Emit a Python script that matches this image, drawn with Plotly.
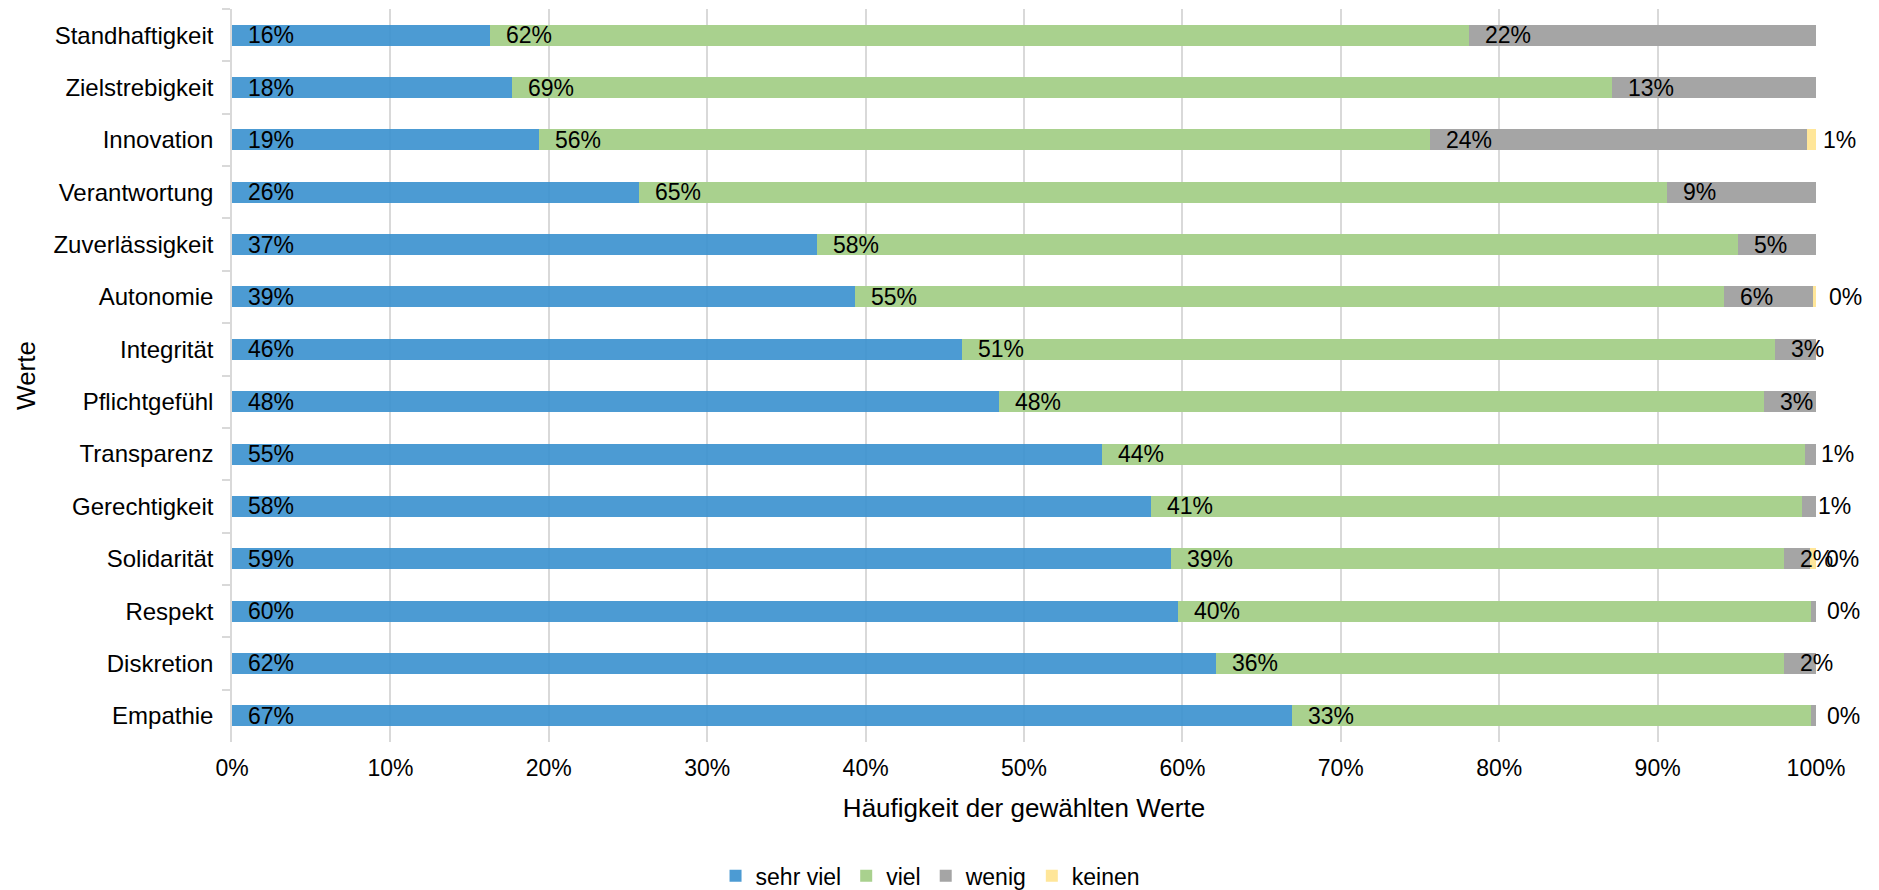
import plotly.graph_objects as go

categories = ["Standhaftigkeit", "Zielstrebigkeit", "Innovation", "Verantwortung",
              "Zuverlässigkeit", "Autonomie", "Integrität", "Pflichtgefühl",
              "Transparenz", "Gerechtigkeit", "Solidarität", "Respekt",
              "Diskretion", "Empathie"]

sehr_viel = [16.3, 17.7, 19.4, 25.7, 36.9, 39.3, 46.1, 48.4, 54.9, 58.0, 59.3, 59.7, 62.1, 66.9]
viel      = [61.8, 69.4, 56.2, 64.9, 58.2, 54.9, 51.3, 48.3, 44.4, 41.1, 38.7, 40.0, 35.9, 32.8]
wenig     = [21.9, 12.9, 23.8, 9.4, 4.9, 5.6, 2.6, 3.3, 0.7, 0.9, 1.6, 0.3, 2.0, 0.3]
keinen    = [None, None, 0.6, None, None, 0.2, None, None, None, None, 0.4, None, None, None]

series_names = ["sehr viel", "viel", "wenig", "keinen"]
series_values = [sehr_viel, viel, wenig, keinen]
series_colors = ["rgba(57,144,206,0.9)", "#A9D18E", "#A5A5A5", "#FFE699"]

x_ticks = [0, 10, 20, 30, 40, 50, 60, 70, 80, 90, 100]

FONT = "Liberation Sans, Arial, sans-serif"

fig = go.Figure()
for name, vals, col in zip(series_names, series_values, series_colors):
    fig.add_trace(go.Bar(
        y=categories, x=[v if v is not None else 0 for v in vals],
        name=name, orientation="h",
        marker=dict(color=col, line=dict(width=0)),
        hoverinfo="x+y+name",
    ))

annotations = []
cum = [0.0] * len(categories)
for vals in series_values:
    for i, v in enumerate(vals):
        if v is None:
            continue
        annotations.append(dict(
            x=cum[i], y=categories[i], xref="x", yref="y",
            text=f"{int(v + 0.5)}%", showarrow=False,
            xanchor="left", yanchor="middle", xshift=14,
            font=dict(family=FONT, size=23, color="#000000"),
        ))
        cum[i] += v

fig.update_layout(
    width=1879, height=890,
    margin=dict(l=232, r=63, t=9, b=148, autoexpand=False),
    barmode="stack", bargap=0.6,
    plot_bgcolor="white", paper_bgcolor="white",
    font=dict(family=FONT, size=23, color="#000000"),
    annotations=annotations,
    showlegend=True,
    legend=dict(orientation="h", xref="paper", x=0.441, xanchor="center",
                yref="container", y=0.016, yanchor="middle",
                font=dict(family=FONT, size=23, color="#000000"),
                traceorder="normal", itemwidth=30),
)

fig.update_xaxes(
    range=[0, 100], tickvals=x_ticks, ticktext=[f"{t}%" for t in x_ticks],
    showgrid=True, gridcolor="#D9D9D9", gridwidth=1.5,
    zeroline=False, showline=False, ticks="",
    ticklabelstandoff=10, automargin=False,
    tickfont=dict(family=FONT, size=23, color="#000000"),
    title=dict(text="Häufigkeit der gewählten Werte", standoff=18,
               font=dict(family=FONT, size=26, color="#000000")),
)

fig.update_yaxes(
    autorange="reversed", type="category",
    showgrid=False, zeroline=False,
    showline=True, linecolor="#D9D9D9", linewidth=1.5,
    ticks="outside", ticklen=8, tickcolor="#D9D9D9", tickwidth=1.5,
    tickson="boundaries", ticklabelstandoff=12, automargin=False,
    tickfont=dict(family=FONT, size=24, color="#000000"),
    title=dict(text="Werte", standoff=10,
               font=dict(family=FONT, size=26, color="#000000")),
)

fig.write_html("out.html")
